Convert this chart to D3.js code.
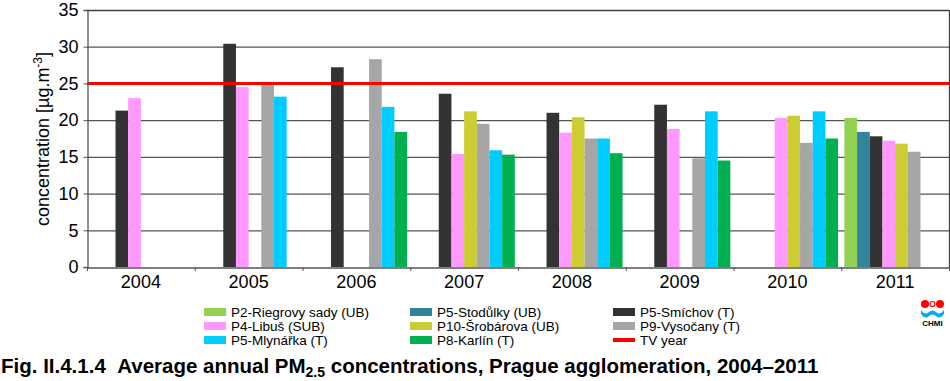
<!DOCTYPE html>
<html><head><meta charset="utf-8">
<script src="https://cdn.jsdelivr.net/npm/d3@7"></script>
<style>body{margin:0;background:#fff}svg{display:block;font-family:"Liberation Sans",Arial,sans-serif}</style>
</head><body><svg id="c" width="950" height="381"></svg>
<script>
const years = ["2004","2005","2006","2007","2008","2009","2010","2011"];
const seriesNames = ["P2-Riegrovy sady (UB)","P5-Stodůlky (UB)","P5-Smíchov (T)","P4-Libuš (SUB)","P10-Šrobárova (UB)","P9-Vysočany (T)","P5-Mlynářka (T)","P8-Karlín (T)"];
const seriesColors = ["#92d050","#31849b","#333333","#ff99ff","#cccc33","#a6a6a6","#00ccff","#00b050"];
const p2Riegrovy  = [null,null,null,null,null,null,null,20.3];
const p5Stodulky  = [null,null,null,null,null,null,null,18.4];
const p5Smichov   = [21.3,30.4,27.2,23.6,21.0,22.1,null,17.8];
const p4Libus     = [23.0,24.5,null,15.4,18.3,18.8,20.3,17.2];
const p10Srobarova= [null,null,null,21.2,20.4,null,20.6,16.8];
const p9Vysocany  = [null,24.9,28.3,19.5,17.5,14.8,16.9,15.7];
const p5Mlynarka  = [null,23.2,21.8,15.9,17.5,21.2,21.2,null];
const p8Karlin    = [null,null,18.4,15.3,15.5,14.5,17.5,null];
const tvYear = 25;
const yTicks = [0,5,10,15,20,25,30,35];
const seriesValues = [p2Riegrovy,p5Stodulky,p5Smichov,p4Libus,p10Srobarova,p9Vysocany,p5Mlynarka,p8Karlin];
const legendOrder = [[0,3,6],[1,4,7],[2,5,"tv"]];

const FONT = "'Liberation Sans',Arial,sans-serif";
const svg = d3.select("#c");
const L=87, R=949, T=10, B=267;
const x = d3.scaleBand().domain(years).range([L,R]).paddingInner(0).paddingOuter(0);
const xi = d3.scaleBand().domain(d3.range(8)).range([0,x.bandwidth()]).paddingInner(0).paddingOuter(0.25);
const y = d3.scaleLinear().domain([0,35]).range([B,T]);

// gridlines
svg.append("g").selectAll("line").data(yTicks.filter(d=>d>0)).join("line")
  .attr("x1",L).attr("x2",R).attr("y1",d=>y(d)+0.5).attr("y2",d=>y(d)+0.5)
  .attr("stroke",d=>d===35?"#404040":"#555").attr("stroke-width",1.3);
// right border
svg.append("line").attr("x1",R+0.5).attr("x2",R+0.5).attr("y1",T).attr("y2",B).attr("stroke","#404040").attr("stroke-width",1.3);

// bars
const flat=[];
seriesValues.forEach((arr,s)=>arr.forEach((v,i)=>{ if(v!=null) flat.push({s,i,v}); }));
svg.append("g").selectAll("rect").data(flat).join("rect")
  .attr("x",d=>x(years[d.i])+xi(d.s))
  .attr("width",xi.bandwidth())
  .attr("y",d=>y(d.v))
  .attr("height",d=>B-y(d.v))
  .attr("fill",d=>seriesColors[d.s]);

// TV line
svg.append("line").attr("x1",L).attr("x2",R).attr("y1",y(tvYear)).attr("y2",y(tvYear))
  .attr("stroke","#ff0000").attr("stroke-width",3);

// y axis
const ya = svg.append("g").attr("transform",`translate(${L+0.5},0)`)
  .call(d3.axisLeft(y).tickValues(yTicks).tickSize(4).tickPadding(5));
ya.select(".domain").attr("stroke","#555").attr("stroke-width",1.3);
ya.selectAll(".tick line").attr("stroke","#555");
ya.selectAll("text").attr("font-size",18).attr("fill","#000").attr("font-family",FONT);

// x axis
const xa = svg.append("g").attr("transform",`translate(0,${B+0.5})`)
  .call(d3.axisBottom(x).tickSize(0).tickPadding(8));
xa.select(".domain").attr("stroke","#555").attr("stroke-width",1.3);
xa.selectAll("text").attr("font-size",18).attr("fill","#000").attr("font-family",FONT);
svg.append("g").selectAll("line").data(years.concat(["end"])).join("line")
  .attr("x1",(d,i)=>L+i*x.bandwidth()+0.5).attr("x2",(d,i)=>L+i*x.bandwidth()+0.5)
  .attr("y1",B).attr("y2",B+4).attr("stroke","#555");

// y label
const yl = svg.append("text").attr("transform","translate(49,139) rotate(-90)")
  .attr("text-anchor","middle").attr("font-size",18).attr("fill","#000").attr("font-family",FONT);
yl.append("tspan").text("concentration [µg.m");
yl.append("tspan").attr("font-size",12).attr("dy",-7).text("-3");
yl.append("tspan").attr("dy",7).text("]");

// legend
const colX = [204,410,613];
const rowY = [312,326,340];
legendOrder.forEach((col,ci)=>col.forEach((s,ri)=>{
  const g = svg.append("g");
  const isTV = s==="tv";
  g.append("rect").attr("x",colX[ci]).attr("y",isTV?rowY[ri]-2:rowY[ri]-4).attr("width",22).attr("height",isTV?4:8)
    .attr("fill",isTV?"#ff0000":seriesColors[s]);
  g.append("text").attr("x",colX[ci]+27).attr("y",rowY[ri]+5).attr("font-size",13.5).attr("fill","#000").attr("font-family",FONT)
    .text(isTV?"TV year":seriesNames[s]);
}));

// title
const tt = svg.append("text").attr("x",1).attr("y",373).attr("font-size",20.5).attr("font-weight","bold").attr("fill","#000").attr("font-family",FONT);
tt.append("tspan").text("Fig. II.4.1.4\u00a0\u00a0Average annual PM");
tt.append("tspan").attr("font-size",14).attr("dy",4).text("2.5");
tt.append("tspan").attr("dy",-4).text(" concentrations, Prague agglomeration, 2004–2011");

// CHMI logo
const lg = svg.append("g");
lg.append("circle").attr("cx",925).attr("cy",304).attr("r",4).attr("fill","#ff0000");
lg.append("circle").attr("cx",940).attr("cy",304).attr("r",4).attr("fill","#ff0000");
lg.append("circle").attr("cx",932.5).attr("cy",304).attr("r",2.5).attr("fill","none").attr("stroke","#ff0000").attr("stroke-width",1.2);
lg.append("path").attr("d","M921,310 Q925,316 929,312 Q932.5,309 936,312 Q940,316 944,310 L944,314 Q940,320 936,316 Q932.5,313 929,316 Q925,320 921,314 Z").attr("fill","#00aaee");
lg.append("text").attr("x",932.5).attr("y",326).attr("text-anchor","middle").attr("font-size",8).attr("font-weight","bold").attr("fill","#000").attr("font-family",FONT).text("CHMI");
</script></body></html>
